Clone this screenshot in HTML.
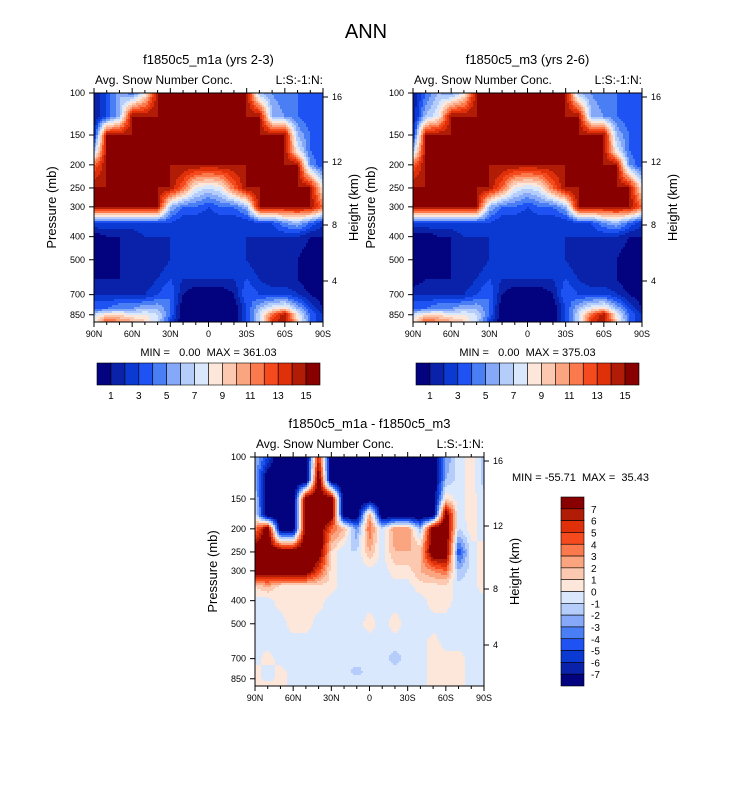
<!DOCTYPE html>
<html><head><meta charset="utf-8">
<style>
body{margin:0;background:#fff;}
svg text{font-family:"Liberation Sans",Arial,sans-serif;fill:#000;white-space:pre;}
</style></head>
<body>
<svg id="fig" width="733" height="784" viewBox="0 0 733 784" xmlns="http://www.w3.org/2000/svg">
<text x="366" y="38" font-size="20" text-anchor="middle">ANN</text>
</svg>
<script>
// ---------- data ----------
const latLabels = ["90N","60N","30N","0","30S","60S","90S"];
const lats = [90,80,70,60,50,40,30,20,10,0,-10,-20,-30,-40,-50,-60,-70,-80,-90];
const pressures = [100,125,150,175,200,250,300,350,400,500,600,700,800,850,900];
const pTicks = [100,150,200,250,300,400,500,700,850];
const heightTicks = [16,12,8,4];
const seqTickLabels = [1,3,5,7,9,11,13,15];
const diffTickLabels = [7,6,5,4,3,2,1,0,-1,-2,-3,-4,-5,-6,-7];
const m1aValues = [
[1,3,6,4,8,15,15,15,15,15,15,15,15,6,5,4,4,3,3],
[1,3,6,15,15,15,15,15,15,15,15,15,15,15,6,5,4,3,3],
[2,15,15,15,15,15,15,15,15,15,15,15,15,15,15,15,6,4,3],
[6,15,15,15,15,15,15,15,15,15,15,15,15,15,15,15,8,4,3],
[12,15,15,15,15,15,15,15,15,15,15,15,15,15,15,15,15,5,3],
[15,15,15,15,15,15,15,12,8,7,8,12,15,15,15,15,15,15,8],
[15,15,15,15,15,15,6,4,4,3,4,4,6,15,15,15,15,15,12],
[3,3,3,3,3,3,3,2,2,2,2,2,2,3,3,5,6,4,2],
[0,1,1,1,2,2,2,2,2,2,2,2,2,2,2,2,2,1,1],
[0,0,1,1,1,1,2,2,2,2,2,2,2,1,1,1,1,0,0],
[1,1,1,1,1,2,3,2,2,2,2,2,3,2,1,1,1,0,0],
[2,2,2,2,2,3,4,1,0,0,0,1,4,3,3,3,2,1,0],
[4,4,5,5,6,6,4,0,0,0,0,0,3,6,8,9,6,3,1],
[7,9,9,8,8,7,4,0,0,0,0,0,3,7,12,15,8,4,2],
[8,12,11,10,9,7,3,0,0,0,0,0,3,7,13,15,9,4,2]];
const m3Values = [
[1,4,6,5,8,15,15,15,15,15,15,15,15,6,5,4,4,3,3],
[1,6,8,15,15,15,15,15,15,15,15,15,15,15,6,5,4,3,3],
[2,15,15,15,15,15,15,15,15,15,15,15,15,15,15,15,6,4,3],
[6,15,15,15,15,15,15,15,15,15,15,15,15,15,15,15,8,4,3],
[12,15,15,15,15,15,15,15,15,15,15,15,15,15,15,15,15,5,3],
[15,15,15,15,15,15,15,12,8,7,8,12,15,15,15,15,15,15,8],
[15,15,15,15,15,15,6,4,4,3,4,4,6,15,15,15,15,15,12],
[3,3,3,3,3,3,3,2,2,2,2,2,2,3,3,5,6,4,2],
[0,0,1,1,2,2,2,2,2,2,2,2,2,2,2,2,2,1,1],
[0,0,0,1,1,1,2,2,2,2,2,2,2,1,1,1,1,0,0],
[0,1,1,1,1,2,3,2,2,2,2,2,3,2,1,1,1,0,0],
[2,2,2,2,2,3,4,1,0,0,0,1,4,3,3,3,2,1,0],
[4,4,5,5,6,6,4,0,0,0,0,0,3,6,8,9,6,3,1],
[7,9,9,8,8,7,4,0,0,0,0,0,3,7,12,15,8,4,2],
[8,12,11,10,9,7,3,0,0,0,0,0,3,7,13,15,9,4,2]];
const diffValues = [
[-2,-5,-9,-9,-9,6,-9,-9,-9,-9,-9,-9,-9,-9,-9,-3,-0.5,0.5,-1.5],
[-2,-9,-9,-9,-9,9,-9,-9,-9,-9,-9,-9,-9,-9,-9,-2,-0.5,0.5,-1.5],
[-1,-9,-9,-9,9,9,9,-9,-9,-9,-9,-9,-9,-9,-9,1,-0.5,0.5,-0.5],
[-0.5,-9,-9,-9,9,9,9,-9,-9,3,-9,-9,-9,-9,-9,9,-0.5,0.5,-0.5],
[3,9,-9,-9,9,9,4,2,-3,4,-1,3,3,-2,9,9,-1,0.5,-0.5],
[9,9,9,9,9,9,1,-1,-1,2,-0.5,2,2,2,9,9,-5,-0.5,0.5],
[9,9,9,9,9,5,0.5,-0.5,-0.5,-0.5,-0.5,0.5,0.5,2,3,4,-2,-0.5,0.5],
[1,2,0.5,0.5,0.5,0.5,0.5,-0.5,-0.5,-0.5,-0.5,-0.5,-0.5,0.5,0.5,0.5,-0.5,-0.5,0.5],
[-0.5,-0.5,0.5,0.5,0.5,0.5,-0.5,-0.5,-0.5,-0.5,-0.5,-0.5,-0.5,-0.5,0.5,0.5,-0.5,-0.5,-0.5],
[-0.5,-0.5,-0.5,0.5,0.5,-0.5,-0.5,-0.5,-0.5,0.5,-0.5,0.5,-0.5,-0.5,-0.5,-0.5,-0.5,-0.5,-0.5],
[-0.5,-0.5,-0.5,-0.5,-0.5,-0.5,-0.5,-0.5,-0.5,-0.5,-0.5,-0.5,-0.5,-0.5,0.5,-0.5,-0.5,-0.5,-0.5],
[-0.5,0.5,-0.5,-0.5,-0.5,-0.5,-0.5,-0.5,-0.5,-0.5,-0.5,-1.5,-0.5,-0.5,0.5,0.5,0.5,-0.5,-0.5],
[0.5,-0.5,0.5,-0.5,-0.5,-0.5,-0.5,-0.5,-1.5,-0.5,-0.5,-0.5,-0.5,-0.5,0.5,0.5,0.5,-0.5,-0.5],
[0.5,-0.5,0.5,-0.5,-0.5,-0.5,-0.5,-0.5,-0.5,-0.5,-0.5,-0.5,-0.5,-0.5,0.5,0.5,0.5,-0.5,-0.5],
[0.5,0.5,0.5,-0.5,-0.5,-0.5,-0.5,-0.5,-0.5,-0.5,-0.5,-0.5,-0.5,-0.5,0.5,0.5,0.5,-0.5,-0.5]];
const palette = ["#030380","#0a22aa","#0a3ad2","#1f52f2","#4a7ef5","#86a8f8","#b5cdfb","#d9e8fd","#fde7da","#fcc8b0","#fba580","#fa7a4e","#f54a1e","#e0300a","#b01c05","#880000"];
// ---------- drawing ----------
const NS="http://www.w3.org/2000/svg";
const svg=document.getElementById('fig');
function mk(tag,attrs,parent){const e=document.createElementNS(NS,tag);for(const k in attrs)e.setAttribute(k,attrs[k]);(parent||svg).appendChild(e);return e;}
const PW=229,PH=229,DEC=238.6;
function interp(grid,lat,p){
  let fx=(90-lat)/10; fx=Math.max(0,Math.min(18,fx)); let i=Math.min(17,Math.floor(fx)); let tx=fx-i;
  let lp=Math.log(p); let j=0;
  while(j<pressures.length-2 && Math.log(pressures[j+1])<lp) j++;
  let ty=(lp-Math.log(pressures[j]))/(Math.log(pressures[j+1])-Math.log(pressures[j]));
  ty=Math.max(0,Math.min(1,ty));
  const a=grid[j][i],b=grid[j][i+1],c=grid[j+1][i],d=grid[j+1][i+1];
  return (a*(1-tx)+b*tx)*(1-ty)+(c*(1-tx)+d*tx)*ty;
}
function panel(x0,y0,grid,title,name,isDiff,minmax){
  const g=mk('g',{});
  
  
  const xS=lat=>x0+(90-lat)/180*PW;
  const yS=p=>y0+Math.log10(p/100)*DEC;
  const fill=mk('g',{},g);
  
  
  const S=2;
  for(let py=0;py<PH;py+=S){
    const p=100*Math.pow(10,(py+S/2)/DEC);
    const h=Math.min(S,PH-py);
    let runStart=0,runCol=null;
    for(let px=0;px<PW+S;px+=S){
      let col=null;
      const cx=Math.min(px,PW);
      if(px<PW){
        const lat=90-(px+S/2)/PW*180;
        const v=interp(grid,lat,p);
        let idx=isDiff?Math.floor(v+1e-6)+8:Math.floor(v+1e-6);
        idx=Math.max(0,Math.min(15,idx));
        col=palette[idx];
      }
      if(col!==runCol){
        if(runCol!==null){
          const r=mk('rect',{x:x0+runStart,y:y0+py,width:cx-runStart+0.4,height:h+0.4,fill:runCol},fill);
          
          
        }
        runStart=cx;runCol=col;
      }
    }
  }
  mk('rect',{x:x0,y:y0,width:PW,height:PH,fill:'none',stroke:'#000','stroke-width':1},g);
  for(let lat=90;lat>=-90;lat-=10){
    const major=lat%30===0;
    mk('line',{x1:xS(lat),x2:xS(lat),y1:y0+PH,y2:y0+PH+(major?5:3),stroke:'#000'},g);
    mk('line',{x1:xS(lat),x2:xS(lat),y1:y0,y2:y0-(major?5:3),stroke:'#000'},g);
  }
  latLabels.forEach((l,k)=>{
    const t=mk('text',{x:xS(90-30*k),y:y0+PH+15,'font-size':9,'text-anchor':'middle'},g);
    t.textContent=l;
    
    
  });
  pTicks.forEach(p=>{
    mk('line',{x1:x0-5,x2:x0,y1:yS(p),y2:yS(p),stroke:'#000'},g);
    const t=mk('text',{x:x0-9,y:yS(p)+3,'font-size':9,'text-anchor':'end'},g);
    t.textContent=p;
    
    
  });
  const hOff={16:4,12:69,8:132,4:188};
  heightTicks.forEach(h=>{
    const y=y0+hOff[h];
    mk('line',{x1:x0+PW,x2:x0+PW+5,y1:y,y2:y,stroke:'#000'},g);
    const t=mk('text',{x:x0+PW+9,y:y+3,'font-size':9},g);
    t.textContent=h;
    
    
  });
  let t=mk('text',{x:x0+PW/2,y:y0-29,'font-size':13,'text-anchor':'middle'},g);t.textContent=title;
  
  
  t=mk('text',{x:x0+1,y:y0-9,'font-size':12},g);t.textContent='Avg. Snow Number Conc.';
  
  
  t=mk('text',{x:x0+PW,y:y0-9,'font-size':12,'text-anchor':'end'},g);t.textContent='L:S:-1:N:';
  
  
  t=mk('text',{x:0,y:0,'font-size':13,'text-anchor':'middle',transform:`translate(${x0-38},${y0+PH/2}) rotate(-90)`},g);t.textContent='Pressure (mb)';
  
  
  t=mk('text',{x:0,y:0,'font-size':13,'text-anchor':'middle',transform:`translate(${x0+PW+35},${y0+PH/2}) rotate(-90)`},g);t.textContent='Height (km)';
  
  
  if(!isDiff){
    t=mk('text',{x:x0+PW/2,y:y0+PH+34,'font-size':11,'text-anchor':'middle'},g);t.textContent=minmax;
    
    
    const cb=mk('g',{},g);
    
    
    const bx=x0+3,bw=223/16,by=y0+270;
    palette.forEach((c,k)=>{
      const r=mk('rect',{x:bx+k*bw,y:by,width:bw,height:22,fill:c,stroke:'#000','stroke-width':0.6},cb);
      
      
    });
    seqTickLabels.forEach(v=>{
      const tt=mk('text',{x:bx+v*bw,y:by+36,'font-size':10,'text-anchor':'middle'},cb);tt.textContent=v;
      
      
    });
  }else{
    t=mk('text',{x:x0+257,y:y0+24,'font-size':11},g);t.textContent=minmax;
    
    
    const cb=mk('g',{},g);
    
    
    const bx=561,by=497,bh=189/16;
    palette.slice().reverse().forEach((c,k)=>{
      const r=mk('rect',{x:bx,y:by+k*bh,width:23,height:bh,fill:c,stroke:'#000','stroke-width':0.6},cb);
      
      
    });
    diffTickLabels.forEach((v,k)=>{
      const tt=mk('text',{x:bx+30,y:by+(k+1)*bh+4,'font-size':10},cb);tt.textContent=v;
      
      
    });
  }
}
panel(94,93,m1aValues,'f1850c5_m1a (yrs 2-3)','panel-m1a',false,'MIN =   0.00  MAX = 361.03');
panel(413,93,m3Values,'f1850c5_m3 (yrs 2-6)','panel-m3',false,'MIN =   0.00  MAX = 375.03');
panel(255,457,diffValues,'f1850c5_m1a - f1850c5_m3','panel-difference',true,'MIN = -55.71  MAX =  35.43');
</script>
</body></html>
